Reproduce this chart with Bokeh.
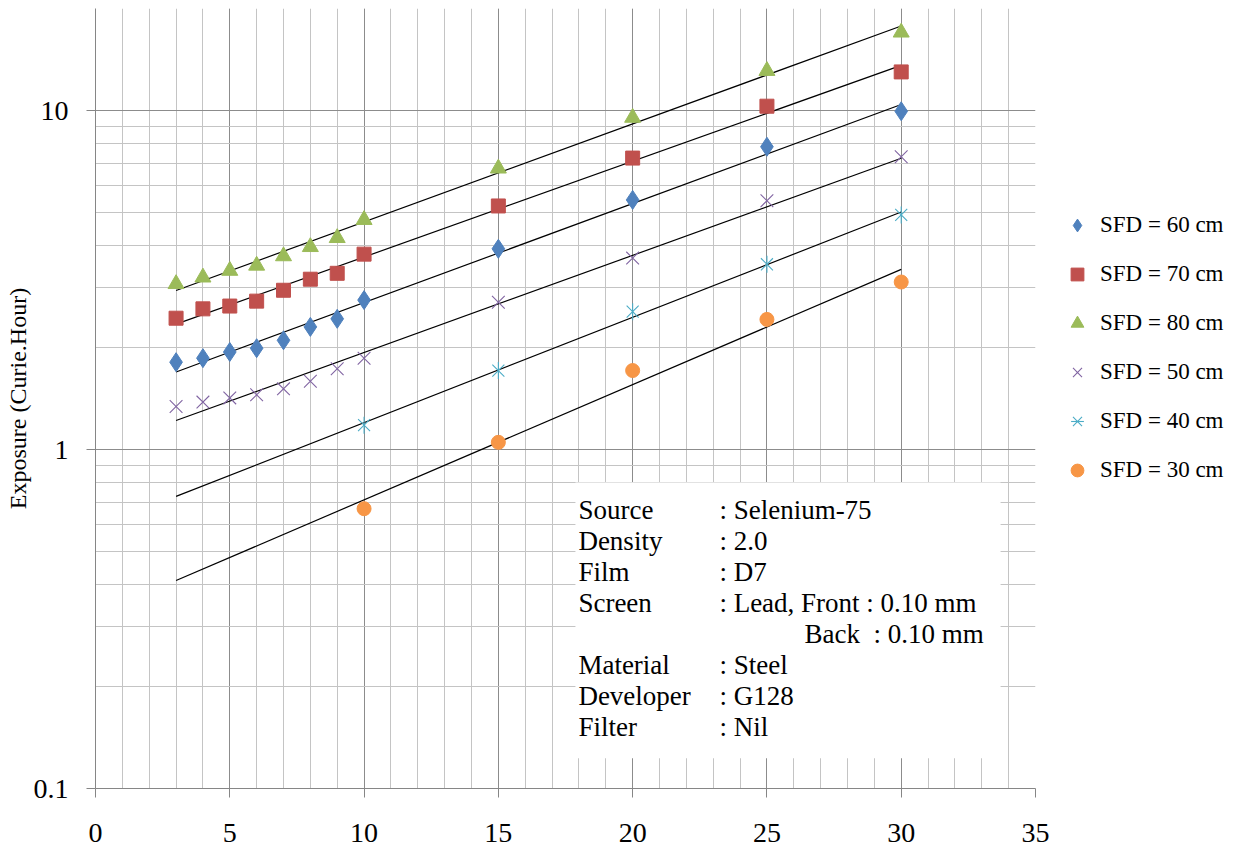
import numpy as np
from bokeh.plotting import figure
from bokeh.models import (Range1d, SingleIntervalTicker, FixedTicker, CustomJSTickFormatter,
                          Legend, LegendItem)
from bokeh.core.properties import value
from bokeh.embed import file_html
from bokeh.resources import INLINE

# ---------------- data ----------------
x_full = [3, 4, 5, 6, 7, 8, 9, 10, 15, 20, 25, 30]
x_short = [10, 15, 20, 25, 30]

sfd60 = [1.81, 1.86, 1.94, 1.99, 2.10, 2.30, 2.43, 2.76, 3.91, 5.45, 7.82, 9.95]
sfd70 = [2.44, 2.60, 2.65, 2.74, 2.95, 3.18, 3.31, 3.77, 5.23, 7.24, 10.3, 13.0]
sfd80 = [3.08, 3.22, 3.37, 3.49, 3.72, 3.96, 4.21, 4.76, 6.75, 9.53, 13.1, 17.0]
sfd50 = [1.34, 1.38, 1.42, 1.45, 1.51, 1.59, 1.73, 1.86, 2.72, 3.67, 5.42, 7.31]
sfd40 = [1.18, 1.71, 2.55, 3.52, 4.92]
sfd30 = [0.669, 1.05, 1.71, 2.42, 3.12]

trend_x = [3, 30]

series_labels = ["SFD = 60 cm", "SFD = 70 cm", "SFD = 80 cm",
                 "SFD = 50 cm", "SFD = 40 cm", "SFD = 30 cm"]

x_ticks_interval = 5
y_major = [0.1, 1, 10]
y_minor = [d * m for d in [0.1, 1, 10] for m in range(2, 10)] + [20]

info_labels = ["Source", "Density", "Film", "Screen", "", "Material", "Developer", "Filter"]
info_values = [": Selenium-75", ": 2.0", ": D7", ": Lead, Front : 0.10 mm",
               "Back\u00a0\u00a0: 0.10 mm", ": Steel", ": G128", ": Nil"]

FONT = "Liberation Serif"

p = figure(frame_width=940, frame_height=780,
           min_border_left=95, min_border_right=185, min_border_top=8, min_border_bottom=64,
           x_range=Range1d(0, 35), y_range=Range1d(0.1, 20), y_axis_type="log",
           output_backend="svg", toolbar_location=None)
p.outline_line_color = None
p.background_fill_color = "white"

# axes
p.xaxis.ticker = SingleIntervalTicker(interval=x_ticks_interval, num_minor_ticks=5)
p.yaxis.ticker = FixedTicker(ticks=y_major, minor_ticks=y_minor)
p.yaxis.formatter = CustomJSTickFormatter(code="return String(parseFloat(tick.toPrecision(3)));")
for ax in (p.xaxis[0], p.yaxis[0]):
    ax.axis_line_color = "#868686"
    ax.major_tick_line_color = "#868686"
    ax.major_tick_out = 9
    ax.major_tick_in = 0
    ax.minor_tick_out = 0
    ax.minor_tick_in = 0
    ax.major_label_text_font = FONT
    ax.major_label_text_font_size = "28px"
    ax.major_label_text_color = "black"
p.xaxis.major_label_standoff = 26
p.yaxis.major_label_standoff = 18
p.yaxis.axis_label = "Exposure (Curie.Hour)"
p.yaxis.axis_label_text_font = FONT
p.yaxis.axis_label_text_font_size = "24px"
p.yaxis.axis_label_text_font_style = "normal"
p.yaxis.axis_label_text_color = "black"
p.yaxis.axis_label_standoff = 0

for g in (p.xgrid[0], p.ygrid[0]):
    g.grid_line_color = "#8c8c8c"
    g.grid_line_alpha = 1
    g.minor_grid_line_color = "#c4c4c4"

# info box (white background)
p.quad(left=17.87, right=33.7, bottom=0.1229, top=0.799,
       fill_color="white", line_color=None)

# trend lines (exponential least-squares fits)
all_series = [(x_full, sfd60), (x_full, sfd70), (x_full, sfd80),
              (x_full, sfd50), (x_short, sfd40), (x_short, sfd30)]
for xs, ys in all_series:
    k, b = np.polyfit(np.array(xs, float), np.log10(np.array(ys, float)), 1)
    tx = np.array(trend_x, float)
    p.line(tx, 10 ** (k * tx + b), line_color="black", line_width=1.2)

# markers
r60 = p.scatter(x_full, sfd60, marker="diamond", size=19, fill_color="#4F81BD", line_color="#4F81BD")
r70 = p.scatter(x_full, sfd70, marker="square", size=14, fill_color="#C0504D", line_color="#C0504D")
r80 = p.scatter(x_full, sfd80, marker="triangle", size=16, fill_color="#9BBB59", line_color="#9BBB59")
r50 = p.scatter(x_full, sfd50, marker="x", size=18, line_color="#8064A2", line_width=1.1)
r40a = p.scatter(x_short, sfd40, marker="x", size=17, line_color="#4BACC6", line_width=1.1)
r40b = p.scatter(x_short, sfd40, marker="dash", size=17, angle=np.pi / 2, line_color="#4BACC6", line_width=1.1)
r30 = p.scatter(x_short, sfd30, marker="circle", size=14, fill_color="#F79646", line_color="#F79646")

# info text
info_y = [10 ** (-0.1774 - 0.0916 * i) for i in range(len(info_labels))]
lab_x = [17.98] * len(info_labels)
val_x = [23.23] * len(info_values)
val_x[4] = 26.40
p.text(lab_x, info_y, text=info_labels, text_font=value(FONT), text_font_size="27px",
       text_baseline="middle", text_color="black")
p.text(val_x, info_y, text=info_values, text_font=value(FONT), text_font_size="27px",
       text_baseline="middle", text_color="black")

legend = Legend(items=[LegendItem(label=series_labels[0], renderers=[r60]),
                       LegendItem(label=series_labels[1], renderers=[r70]),
                       LegendItem(label=series_labels[2], renderers=[r80]),
                       LegendItem(label=series_labels[3], renderers=[r50]),
                       LegendItem(label=series_labels[4], renderers=[r40a, r40b]),
                       LegendItem(label=series_labels[5], renderers=[r30])],
                location=(26, 302), glyph_width=32, glyph_height=32, label_height=32,
                spacing=17, padding=0, margin=0, border_line_color=None,
                background_fill_alpha=0, label_standoff=7,
                label_text_font=FONT, label_text_font_size="23px", label_text_color="black")
p.add_layout(legend, "right")

open("out.html", "w").write(file_html(p, INLINE))
